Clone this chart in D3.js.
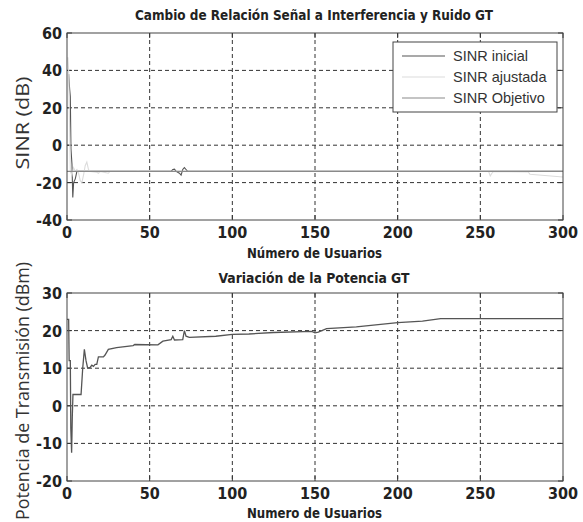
<!DOCTYPE html>
<html>
<head>
<meta charset="utf-8">
<style>
  body { margin: 0; background: #fff; }
  .grid line { stroke: #333; stroke-width: 1; stroke-dasharray: 4,3; }
  .tick-lbl { font-family: "Liberation Sans Narrow", "Arial Narrow", "DejaVu Sans Condensed", sans-serif; font-weight: bold; font-size: 16px; fill: #222; }
  .ttl { font-family: "Liberation Sans Narrow", "Arial Narrow", "DejaVu Sans Condensed", sans-serif; font-weight: bold; font-size: 14px; fill: #222; }
  .ylab { font-family: "Open Sans", "Liberation Sans", sans-serif; font-size: 18px; fill: #333; }
  .leg { font-family: "Liberation Sans", Arial, sans-serif; font-size: 14.5px; fill: #333; }
</style>
</head>
<body>
<svg width="583" height="522"></svg>
<script src="https://cdn.jsdelivr.net/npm/d3@7/dist/d3.min.js"></script>
<script>
var xTicks = [0, 50, 100, 150, 200, 250, 300];
var sinrTicks = [-40, -20, 0, 20, 40, 60];
var potTicks = [-20, -10, 0, 10, 20, 30];

// [usuario, SINR dB]
var sinrInicial = [[1, 38], [1.6, 30], [2, 26], [2.4, -2], [3, -10], [3.5, -28], [4, -20], [5, -18], [6, -14],
  [63, -14], [64, -13], [65, -12.8], [66, -14], [68, -15], [69, -16], [70, -13], [71, -12], [72, -13], [73, -14], [300, -14]];
var sinrAjustada = [[0.5, 47], [1, 40], [2, -14], [3, -16], [4, -12], [5, -14], [6, -13], [7, -15], [8, -19], [9, -20],
  [10, -16], [11, -11], [12, -9], [13, -13], [14, -14], [18, -14.5], [19, -15], [20, -14], [25, -15], [26, -14],
  [42, -14], [43, -13.6], [44, -14], [255, -14], [256, -16.5], [257, -15], [258, -14], [279, -14.3], [280, -15.5], [300, -17]];
var sinrObjetivo = [[0, -14], [300, -14]];

var legendNames = ["SINR inicial", "SINR ajustada", "SINR Objetivo"];
var legendColors = ["#555", "#dcdcdc", "#8a8a8a"];

// [usuario, potencia dBm]
var potencia = [[0, 23], [1, 23], [1.3, 12], [2, 12], [2.3, -6], [2.8, -12.5], [3.2, -3], [3.6, 3], [8.5, 3], [9.5, 10],
  [10.5, 15], [11.5, 12], [12.5, 10], [14, 10.2], [15, 10.8], [16, 10.5], [17, 11], [18, 11], [19, 13], [22, 13],
  [23, 13.5], [25, 15], [30, 15.5], [40, 16], [41, 16.3], [55, 16.2], [58, 17.2], [63, 17.6], [64, 18.5], [65, 17.5],
  [70, 17.6], [71, 20], [72, 18.5], [74, 18.2], [90, 18.5], [100, 19], [110, 19.1], [125, 19.5], [148, 19.8],
  [150, 19.4], [152, 19.6], [157, 20.5], [175, 21], [200, 22.1], [215, 22.5], [226, 23.2], [300, 23.2]];

var svg = d3.select("svg");
var left = 67, right = 563;

function panel(top, bottom, yDom, yTicks, title, titleY, titleW, xlab, xlabY) {
  var x = d3.scaleLinear().domain([0, 300]).range([left, right]);
  var y = d3.scaleLinear().domain(yDom).range([bottom, top]);
  var g = svg.append("g");

  var grid = g.append("g").attr("class", "grid");
  grid.selectAll(".gx").data(xTicks.slice(1, -1)).enter().append("line")
    .attr("x1", function (d) { return x(d); }).attr("x2", function (d) { return x(d); })
    .attr("y1", top).attr("y2", bottom);
  grid.selectAll(".gy").data(yTicks.slice(1, -1)).enter().append("line")
    .attr("y1", function (d) { return y(d); }).attr("y2", function (d) { return y(d); })
    .attr("x1", left).attr("x2", right);

  // inward ticks, all four sides
  var tk = g.append("g").attr("stroke", "#333").attr("stroke-width", 1);
  xTicks.forEach(function (d) {
    tk.append("line").attr("x1", x(d)).attr("x2", x(d)).attr("y1", bottom).attr("y2", bottom - 5);
    tk.append("line").attr("x1", x(d)).attr("x2", x(d)).attr("y1", top).attr("y2", top + 5);
  });
  yTicks.forEach(function (d) {
    tk.append("line").attr("y1", y(d)).attr("y2", y(d)).attr("x1", left).attr("x2", left + 5);
    tk.append("line").attr("y1", y(d)).attr("y2", y(d)).attr("x1", right).attr("x2", right - 5);
  });

  g.selectAll(".xl").data(xTicks).enter().append("text").attr("class", "tick-lbl")
    .attr("x", function (d) { return x(d); }).attr("y", bottom + 18)
    .attr("text-anchor", "middle").text(function (d) { return d; });
  g.selectAll(".yl").data(yTicks).enter().append("text").attr("class", "tick-lbl")
    .attr("x", left - 5).attr("y", function (d) { return y(d) + 6; })
    .attr("text-anchor", "end").text(function (d) { return d; });

  g.append("text").attr("class", "ttl").attr("x", 314).attr("y", titleY)
    .attr("text-anchor", "middle").attr("textLength", titleW).attr("lengthAdjust", "spacingAndGlyphs").text(title);
  g.append("text").attr("class", "ttl").attr("x", 314.5).attr("y", xlabY)
    .attr("text-anchor", "middle").attr("textLength", 135).attr("lengthAdjust", "spacingAndGlyphs").text(xlab);

  return { g: g, x: x, y: y, top: top, bottom: bottom };
}

function frame(p) {
  p.g.append("rect").attr("x", left).attr("y", p.top).attr("width", right - left).attr("height", p.bottom - p.top)
    .attr("fill", "none").attr("stroke", "#444").attr("stroke-width", 1);
}

// panel superior
var p1 = panel(33, 220, [-40, 60], sinrTicks, "Cambio de Relación Señal a Interferencia y Ruido GT", 20, 358,
  "Número de Usuarios", 258);
var line1 = d3.line().x(function (d) { return p1.x(d[0]); }).y(function (d) { return p1.y(d[1]); });
[sinrInicial, sinrAjustada, sinrObjetivo].forEach(function (s, i) {
  p1.g.append("path").datum(s).attr("d", line1).attr("fill", "none")
    .attr("stroke", legendColors[i]).attr("stroke-width", 1.1);
});
frame(p1);

p1.g.append("text").attr("class", "ylab").attr("transform", "translate(29,123) rotate(-90)")
  .attr("text-anchor", "middle").attr("textLength", 93).attr("lengthAdjust", "spacingAndGlyphs").text("SINR (dB)");

// leyenda
var lg = p1.g.append("g");
lg.append("rect").attr("x", 393).attr("y", 42).attr("width", 164).attr("height", 70)
  .attr("fill", "#fff").attr("stroke", "#444").attr("stroke-width", 1);
legendNames.forEach(function (n, i) {
  var cy = 56 + i * 21;
  lg.append("line").attr("x1", 402).attr("x2", 445).attr("y1", cy).attr("y2", cy)
    .attr("stroke", legendColors[i]).attr("stroke-width", 1.2);
  lg.append("text").attr("class", "leg").attr("x", 453).attr("y", cy + 5).text(n);
});

// panel inferior
var p2 = panel(293, 481, [-20, 30], potTicks, "Variación de la Potencia GT", 283, 191, "Numero de Usuarios", 518);
var line2 = d3.line().x(function (d) { return p2.x(d[0]); }).y(function (d) { return p2.y(d[1]); });
p2.g.append("path").datum(potencia).attr("d", line2).attr("fill", "none")
  .attr("stroke", "#555").attr("stroke-width", 1.3);
frame(p2);

p2.g.append("text").attr("class", "ylab").attr("transform", "translate(29,391) rotate(-90)")
  .attr("text-anchor", "middle").attr("textLength", 258).attr("lengthAdjust", "spacingAndGlyphs")
  .text("Potencia de Transmisión (dBm)");
</script>
</body>
</html>
